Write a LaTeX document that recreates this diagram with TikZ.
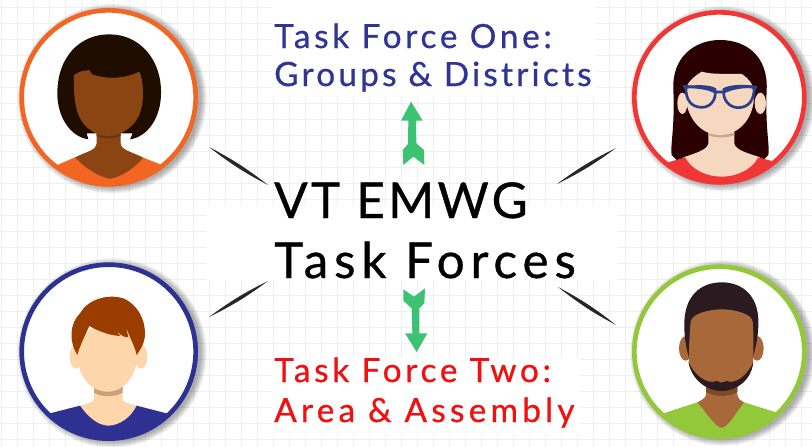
\documentclass[tikz,border=0pt]{standalone}
\usepackage{fontspec}
\setmainfont{Lato}
\newfontfamily\fontA[LetterSpace=7,FakeBold=0.7]{Lato}
\newfontfamily\fontB[LetterSpace=12,FakeBold=0.7]{Lato}
\newfontfamily\fontC[LetterSpace=11.2,FakeBold=0.7]{Lato}
\newfontfamily\fontD[LetterSpace=9.7,FakeBold=0.7]{Lato}
\newfontfamily\fontE[LetterSpace=12.8,FakeBold=0.7]{Lato}
\usetikzlibrary{calc}
\definecolor{gridc}{HTML}{EFEFF1}
\definecolor{arrowg}{HTML}{3CC273}
\definecolor{navy}{HTML}{2E3192}
\definecolor{orng}{HTML}{F26522}
\definecolor{redr}{HTML}{F23535}
\definecolor{lime}{HTML}{93C83A}
\definecolor{txtblue}{HTML}{2F3495}
\definecolor{txtred}{HTML}{F01010}
\definecolor{hairA}{HTML}{1E0D00}
\definecolor{skinA}{HTML}{8A4513}
\definecolor{shadeA}{HTML}{6D3610}
\definecolor{hairB}{HTML}{2B0000}
\definecolor{skinB}{HTML}{F5D8BF}
\definecolor{shadeB}{HTML}{C9A891}
\definecolor{glass}{HTML}{2B3F8C}
\definecolor{hairC}{HTML}{9C3D00}
\definecolor{skinC}{HTML}{FDD6AC}
\definecolor{shadeC}{HTML}{C9A27A}
\definecolor{hairD}{HTML}{2B1A1F}
\definecolor{skinD}{HTML}{A8683A}
\definecolor{shadeD}{HTML}{7D4A28}
\tikzset{
  titletext/.style={anchor=base west,inner sep=0pt,text=black},
  subblue/.style={anchor=base west,inner sep=0pt,text=txtblue},
  subred/.style={anchor=base west,inner sep=0pt,text=txtred},
  spike/.style={fill=black!85,draw=none},
  greenarrow/.style={fill=arrowg,draw=none},
  zoomed/.style={x=0.25pt,y=-0.25pt},
  ringline/.style={line width=3.5pt}
}
\newcommand{\bigsz}{\fontsize{37}{37}\selectfont}
\newcommand{\smallsz}{\fontsize{25}{25}\selectfont}
\newcommand{\avatarbase}[3]{%
  \foreach \k in {18,15,12,9,6,3,0}{
    \fill[black,opacity=0.05] (#1+10,#2+4) circle[radius=#3+\k];}
  \fill[white] (#1,#2) circle[radius=#3];
}
\newcommand{\spikebetween}[2]{\fill[spike] (#1) to[bend left=5] (#2) to[bend left=5] (#1);}
\begin{document}
\begin{tikzpicture}[x=0.75pt,y=-0.75pt]
\useasboundingbox (0,0) rectangle (812,446);
\fill[white] (0,0) rectangle (812,446);
% grid
\foreach \i in {0,...,50}{\draw[gridc,line width=0.5pt] ({1+16*\i},0) -- ({1+16*\i},446);}
\foreach \i in {0,...,27}{\draw[gridc,line width=0.5pt] (0,{7+16*\i}) -- (812,{7+16*\i});}
% white patches behind the texts
\fill[white] (207,205) rectangle (617,280);
\fill[white] (272,0) rectangle (596,96);
\fill[white] (272,358) rectangle (580,434);

% ---------- top-left avatar
\begin{scope}[zoomed]
\avatarbase{326}{292}{266}
\begin{scope}
\clip (326,292) circle[radius=260];
\fill[hairA] (265,418) .. controls (210,410) and (172,350) .. (172,280) .. controls (172,170) and (240,103) .. (328,103) .. controls (420,103) and (485,180) .. (483,280) .. controls (483,350) and (445,410) .. (390,418) -- (398,400) -- (260,400) -- cycle;
\fill[skinA] (290,395) -- (290,430) .. controls (290,450) and (260,455) .. (225,472) -- (225,545) -- (430,545) -- (430,473) .. controls (395,455) and (362,450) .. (362,430) -- (362,395) -- cycle;
\fill[shadeA] (290,400) -- (290,408) .. controls (310,418) and (342,418) .. (362,408) -- (362,400) -- cycle;
\fill[skinA] (222,225) -- (240,215) -- (268,210) -- (275,222) .. controls (320,240) and (380,235) .. (418,215) .. controls (430,240) and (432,290) .. (425,320) .. controls (415,380) and (360,408) .. (325,408) .. controls (285,408) and (240,380) .. (228,320) .. controls (222,290) and (220,250) .. (222,225) -- cycle;
\fill[orng] (172,495) -- (225,472) .. controls (255,505) and (295,530) .. (330,537) .. controls (365,530) and (405,505) .. (430,473) -- (478,492) -- (600,600) -- (50,600) -- cycle;
\end{scope}
\draw[orng,ringline] (326,292) circle[radius=261];
\end{scope}

% ---------- top-right avatar
\begin{scope}[zoomed,xshift=465pt]
\avatarbase{298}{292}{260}
\begin{scope}
\clip (298,292) circle[radius=254];
\fill[hairB] (155,465) .. controls (150,440) and (165,380) .. (160,270) .. controls (155,170) and (225,120) .. (300,120) .. controls (380,120) and (445,170) .. (440,270) .. controls (435,380) and (450,440) .. (445,465) -- (430,480) -- (170,480) -- cycle;
\fill[skinB] (187,310) ellipse[x radius=15,y radius=32];
\fill[skinB] (421,310) ellipse[x radius=17,y radius=32];
\fill[skinB] (265,390) -- (265,430) .. controls (262,450) and (225,460) .. (190,472) -- (190,545) -- (420,545) -- (420,472) .. controls (385,460) and (345,450) .. (343,430) -- (343,390) -- cycle;
\fill[shadeB] (265,400) -- (265,405) .. controls (285,415) and (323,415) .. (343,405) -- (343,400) -- cycle;
\fill[skinB] (195,270) .. controls (205,240) and (230,225) .. (245,215) .. controls (280,225) and (330,220) .. (365,222) .. controls (385,235) and (400,250) .. (402,280) .. controls (405,350) and (360,405) .. (300,405) .. controls (240,405) and (195,350) .. (195,270) -- cycle;
\fill[redr] (135,490) -- (195,472) .. controls (215,510) and (260,530) .. (305,530) .. controls (350,530) and (395,510) .. (415,472) -- (470,487) -- (600,600) -- (0,600) -- cycle;
\draw[glass,line width=2pt] (192,259) .. controls (240,262) and (265,265) .. (285,276) -- (312,276) .. controls (335,265) and (365,258) .. (408,261);
\fill[glass] (187,256) -- (205,258) -- (197,274) -- cycle;
\fill[glass] (413,258) -- (392,258) -- (404,276) -- cycle;
\draw[glass,line width=2pt] (198,262) .. controls (196,300) and (215,322) .. (245,322) .. controls (275,322) and (290,295) .. (285,268) .. controls (270,258) and (230,258) .. (198,262) -- cycle;
\draw[glass,line width=2pt] (312,268) .. controls (306,295) and (325,323) .. (355,323) .. controls (385,323) and (404,300) .. (402,262) .. controls (370,256) and (330,258) .. (312,268) -- cycle;
\end{scope}
\draw[redr,ringline] (298,292) circle[radius=255];
\end{scope}

% ---------- bottom-left avatar
\begin{scope}[zoomed,yshift=-187.5pt]
\avatarbase{326}{305}{266}
\begin{scope}
\clip (326,305) circle[radius=260];
\fill[skinC] (228,320) ellipse[x radius=19,y radius=36];
\fill[skinC] (423,320) ellipse[x radius=19,y radius=36];
\fill[skinC] (282,405) -- (282,450) .. controls (275,460) and (255,462) .. (240,467) -- (240,540) -- (410,540) -- (410,467) .. controls (395,462) and (375,460) .. (368,450) -- (368,405) -- cycle;
\fill[shadeC] (282,405) -- (282,428) .. controls (305,442) and (345,442) .. (368,428) -- (368,405) -- cycle;
\fill[skinC] (322,322) ellipse[x radius=88,y radius=103];
\fill[hairC] (232,315) .. controls (205,270) and (210,220) .. (240,190) .. controls (262,150) and (320,130) .. (370,145) .. controls (415,165) and (435,210) .. (435,250) .. controls (435,280) and (420,300) .. (410,315) .. controls (405,290) and (390,265) .. (378,230) -- (385,262) .. controls (365,262) and (355,248) .. (345,235) -- (360,258) .. controls (320,255) and (290,240) .. (268,228) .. controls (258,250) and (240,285) .. (232,315) -- cycle;
\fill[navy] (150,490) -- (240,467) .. controls (270,510) and (300,527) .. (325,527) .. controls (360,527) and (395,500) .. (410,467) -- (500,490) -- (620,620) -- (30,620) -- cycle;
\end{scope}
\draw[navy,ringline] (326,305) circle[radius=261];
\end{scope}

% ---------- bottom-right avatar
\begin{scope}[zoomed,xshift=465pt,yshift=-187.5pt]
\avatarbase{298}{305}{260}
\begin{scope}
\clip (298,305) circle[radius=254];
\fill[skinD] (197,295) ellipse[x radius=20,y radius=37];
\fill[skinD] (411,295) ellipse[x radius=20,y radius=37];
\fill[hairD] (210,335) .. controls (197,290) and (193,260) .. (193,230) .. controls (190,140) and (240,97) .. (305,97) .. controls (370,97) and (420,140) .. (415,230) .. controls (413,270) and (405,300) .. (395,335) -- cycle;
\fill[skinD] (258,405) -- (258,435) .. controls (255,445) and (245,450) .. (232,457) -- (232,540) -- (372,540) -- (372,457) .. controls (360,450) and (352,445) .. (352,435) -- (352,405) -- cycle;
\fill[shadeD] (258,410) -- (258,425) .. controls (280,442) and (330,442) .. (352,425) -- (352,410) -- cycle;
\fill[skinD] (212,215) .. controls (215,190) and (270,178) .. (305,178) .. controls (340,178) and (395,190) .. (398,215) .. controls (402,260) and (400,320) .. (398,345) .. controls (385,385) and (340,415) .. (305,415) .. controls (265,415) and (220,385) .. (208,345) .. controls (205,320) and (208,260) .. (212,215) -- cycle;
\fill[hairD] (205,335) .. controls (215,390) and (260,423) .. (305,423) .. controls (350,423) and (395,390) .. (400,335) .. controls (385,375) and (345,405) .. (320,393) -- (305,398) -- (290,393) .. controls (260,405) and (222,375) .. (205,335) -- cycle;
\fill[lime] (130,490) -- (232,457) .. controls (275,510) and (290,533) .. (305,533) .. controls (320,533) and (335,510) .. (372,457) -- (478,490) -- (600,620) -- (0,620) -- cycle;
\end{scope}
\draw[lime,ringline] (298,305) circle[radius=255];
\end{scope}

% ---------- tapered spikes
\coordinate (tla) at (209,147); \coordinate (tlb) at (268,185);
\coordinate (tra) at (616,148); \coordinate (trb) at (557,184);
\coordinate (bla) at (268,281); \coordinate (blb) at (209,317);
\coordinate (bra) at (558,287); \coordinate (brb) at (616,325);
\spikebetween{tla}{tlb}
\spikebetween{tra}{trb}
\spikebetween{bla}{blb}
\spikebetween{bra}{brb}

% ---------- green arrows
\begin{scope}[zoomed,xshift=255pt,yshift=-67.5pt]
\fill[greenarrow] (213,35) -- (248,92) -- (228,92) -- (229,160) -- (252,180) -- (253,225) -- (220,200) -- (190,225) -- (188,180) -- (204,162) -- (205,92) -- (183,92) -- cycle;
\end{scope}
\begin{scope}[zoomed,xshift=270pt,yshift=-202.5pt]
\fill[greenarrow] (130,58) -- (162,80) -- (195,55) -- (193,100) -- (178,115) -- (178,190) -- (202,190) -- (170,246) -- (135,190) -- (157,190) -- (155,115) -- (130,92) -- cycle;
\end{scope}

% ---------- texts
\node[subblue,font=\fontC\smallsz] (one) at (274,48) {Task Force One:};
\node[subblue,font=\fontD\smallsz] (groups) at (274,86) {Groups \& Districts};
\node[titletext,font=\fontA\bigsz] (vt) at (274,218) {VT EMWG};
\node[titletext,font=\fontB\bigsz] (tf) at (274,278) {Task Forces};
\node[subred,font=\fontC\smallsz] (two) at (274,382) {Task Force Two:};
\node[subred,font=\fontE\smallsz] (area) at (274,422) {Area \& Assembly};
\end{tikzpicture}
\end{document}
